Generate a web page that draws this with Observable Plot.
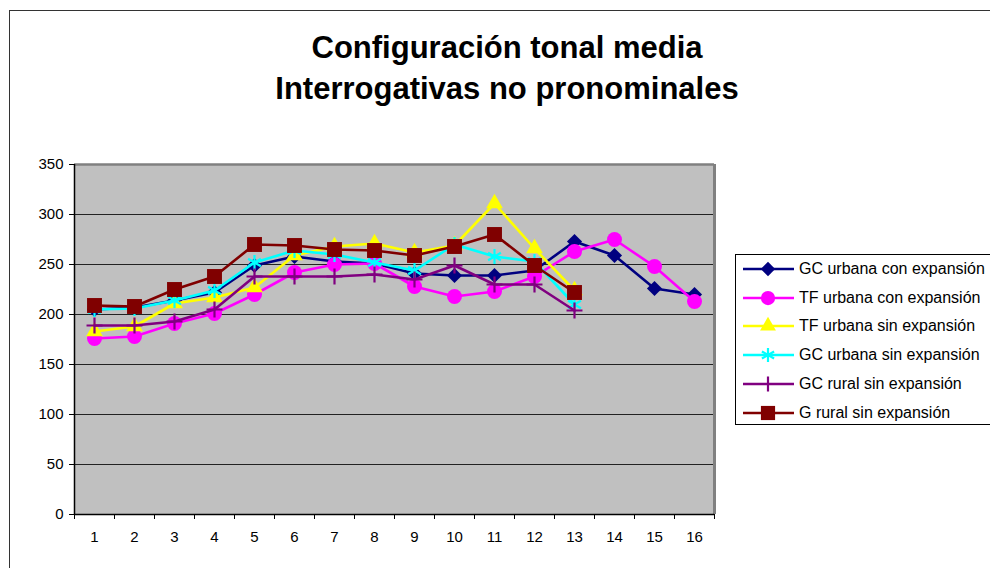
<!DOCTYPE html>
<html>
<head>
<meta charset="utf-8">
<script src="https://cdn.jsdelivr.net/npm/d3@7"></script>
<script src="https://cdn.jsdelivr.net/npm/@observablehq/plot@0.6"></script>
<style>
  html, body { margin: 0; padding: 0; background: #fff; }
  #wrap { position: relative; width: 990px; height: 568px; overflow: hidden; background: #fff;
          font-family: "Liberation Sans", Arial, sans-serif; }
  #frame { position: absolute; left: 9px; top: 10px; width: 1100px; height: 700px; border: 1.5px solid #333; box-sizing: border-box; }
  #chart { position: absolute; left: 0; top: 0; }
  #title { position: absolute; left: 0; width: 1014px; top: 27px; text-align: center; font-weight: bold;
           font-size: 31px; line-height: 41px; color: #000; }
  #legend { position: absolute; left: 735px; top: 254px; width: 300px; height: 171px; border: 1px solid #000;
            box-sizing: border-box; background: #fff; }
  .row { position: absolute; left: 5px; height: 20px; display: flex; align-items: center; font-size: 16px; white-space: nowrap; }
  .row svg { display: block; margin-right: 4px; }
</style>
</head>
<body>
<div id="wrap">
  <div id="frame"></div>
  <div id="chart"></div>
  <div id="title">Configuración tonal media<br>Interrogativas no pronominales</div>
  <div id="legend"></div>
</div>
<script>
// Categories (x tick labels)
const categories = [1, 2, 3, 4, 5, 6, 7, 8, 9, 10, 11, 12, 13, 14, 15, 16];
const yTicks = [0, 50, 100, 150, 200, 250, 300, 350];

// Series names
const seriesNames = [
  "GC urbana con expansión",
  "TF urbana con expansión",
  "TF urbana sin expansión",
  "GC urbana sin expansión",
  "GC rural sin expansión",
  "G rural sin expansión"
];

// Series values
const gcUrbanaCon = [205, 207, 214, 222, 249, 258, 253, 251, 241, 239, 239, 244, 273, 259, 226, 220];
const tfUrbanaCon = [176, 178, 191, 201, 220, 242, 250, 251, 228, 218, 223, 238, 263, 275, 248, 213];
const tfUrbanaSin = [183, 188, 211, 217, 227, 259, 268, 271, 262, 269, 311, 266, 224];
const gcUrbanaSin = [205, 206, 214, 224, 252, 264, 260, 252, 244, 270, 258, 253, 210];
const gcRuralSin  = [189, 189, 193, 205, 238, 238, 238, 240, 235, 249, 230, 230, 204];
const gRuralSin   = [209, 208, 225, 238, 270, 269, 265, 264, 259, 268, 280, 249, 222];

const seriesValues = [gcUrbanaCon, tfUrbanaCon, tfUrbanaSin, gcUrbanaSin, gcRuralSin, gRuralSin];

// Styles
const styles = [
  {color: "#000080", symbol: "diamond2", r: 6.8, filled: true},
  {color: "#FF00FF", symbol: "circle", r: 7.5, filled: true},
  {color: "#FFFF00", symbol: "triangle2", r: 8, filled: true},
  {color: "#00FFFF", symbol: "asterisk", r: 7, filled: false},
  {color: "#800080", symbol: "plus", r: 5.2, filled: false},
  {color: "#800000", symbol: "square2", r: 9.5, filled: true}
];

const boundaries = d3.range(0.5, 17, 1);

const seriesMarks = [];
seriesValues.forEach((vals, si) => {
  const st = styles[si];
  const data = vals.map((v, i) => ({x: categories[i], y: v}));
  seriesMarks.push(Plot.line(data, {x: "x", y: "y", stroke: st.color, strokeWidth: 2.6}));
  if (st.filled) {
    seriesMarks.push(Plot.dot(data, {x: "x", y: "y", symbol: st.symbol, r: st.r, fill: st.color, stroke: "none"}));
  } else {
    seriesMarks.push(Plot.dot(data, {x: "x", y: "y", symbol: st.symbol, r: st.r, stroke: st.color, strokeWidth: 2.2, fill: "none"}));
  }
});

const chart = Plot.plot({
  width: 990,
  height: 568,
  marginLeft: 74,
  marginRight: 276,
  marginTop: 164,
  marginBottom: 54,
  style: {fontFamily: "'Liberation Sans', Arial, sans-serif", fontSize: "15px", color: "#000", background: "transparent"},
  x: {type: "linear", domain: [0.5, 16.5]},
  y: {domain: [0, 350]},
  marks: [
    Plot.frame({fill: "#C0C0C0", stroke: "none"}),
    Plot.gridY(yTicks, {stroke: "#222", strokeOpacity: 1, strokeWidth: 1}),
    Plot.ruleY([350], {stroke: "#808080", strokeWidth: 2.5}),
    Plot.ruleX([16.5], {stroke: "#808080", strokeWidth: 3}),
    Plot.ruleX([0.5], {stroke: "#000", strokeWidth: 1.5}),
    Plot.ruleY([0], {stroke: "#000", strokeWidth: 1.5}),
    Plot.axisY(yTicks, {anchor: "left", tickSize: 5, tickPadding: 6, fontSize: 15, label: null, stroke: "#000"}),
    Plot.axisX(boundaries, {anchor: "bottom", tickSize: 5, tickFormat: () => "", label: null, stroke: "#000"}),
    Plot.axisX(categories, {anchor: "bottom", tickSize: 0, tickPadding: 17, fontSize: 15, label: null}),
    ...seriesMarks
  ]
});
document.getElementById("chart").appendChild(chart);

// Legend
const legend = d3.select("#legend");
const rowTops = [268, 297, 325, 353.5, 382.5, 411.5];
seriesNames.forEach((name, i) => {
  const st = styles[i];
  const row = legend.append("div").attr("class", "row").style("top", (rowTops[i] - 254 - 10) + "px");
  const svg = row.append("svg").attr("width", 54).attr("height", 20);
  svg.append("line").attr("x1", 2).attr("x2", 53).attr("y1", 10).attr("y2", 10)
    .attr("stroke", st.color).attr("stroke-width", 2.6);
  const symMap = {diamond2: d3.symbolDiamond2, circle: d3.symbolCircle, triangle2: d3.symbolTriangle2,
                  asterisk: d3.symbolAsterisk, plus: d3.symbolPlus, square2: d3.symbolSquare2};
  const rr = st.r * 0.95;
  const path = d3.symbol(symMap[st.symbol], Math.PI * rr * rr)();
  const p = svg.append("path").attr("d", path).attr("transform", "translate(27,10)");
  if (st.filled) p.attr("fill", st.color);
  else p.attr("fill", "none").attr("stroke", st.color).attr("stroke-width", 2.2);
  row.append("span").text(name);
});
</script>
</body>
</html>
